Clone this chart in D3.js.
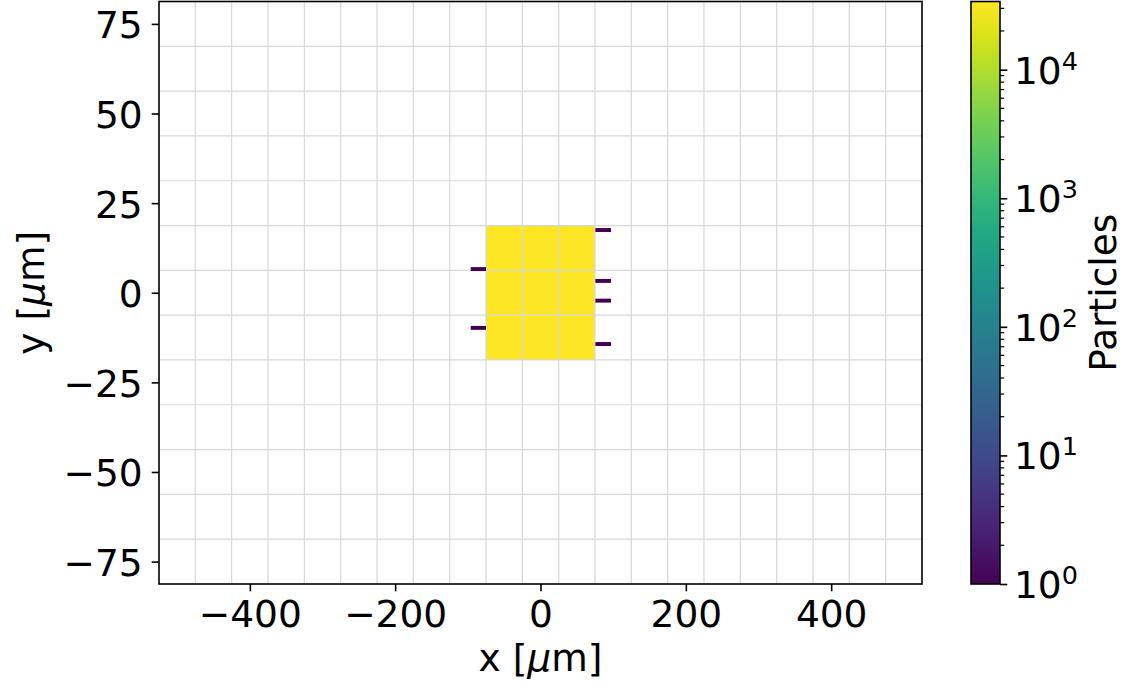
<!DOCTYPE html>
<html>
<head>
<meta charset="utf-8">
<script src="https://cdn.jsdelivr.net/npm/d3@7"></script>
<style>
  body { margin: 0; background: #fff; }
  svg, svg text { font-family: "DejaVu Sans", "DejaVu Sans Book", sans-serif; }
</style>
</head>
<body>
<svg width="1125" height="691"></svg>
<script>
// histogram bin edges (µm)
var xEdges = [-525, -475, -425, -375, -325, -275, -225, -175, -125, -75, -25, 25, 75, 125, 175, 225, 275, 325, 375, 425, 475, 525];
var yEdges = [-81.25, -68.75, -56.25, -43.75, -31.25, -18.75, -6.25, 6.25, 18.75, 31.25, 43.75, 56.25, 68.75, 81.25];

// filled bins: centre x, centre y, particle count
var cellX = [-50, 0, 50];
var cellY = [12.5, 0, -12.5];
var cellCounts = [
    [33600, 33900, 33700],
    [33800, 33900, 33800],
    [33500, 33800, 33600]
];

// stray single particles (thin slivers beside the beam)
var strayX0 = [-96, -96, 75.5, 75.5, 75.5, 75.5];
var strayX1 = [-75, -75, 97, 97, 97, 97];
var strayY = [6.6, -9.8, 17.5, 3.3, -2.2, -14.3];
var strayCounts = [1, 1, 1, 1, 1, 1];

var xTicks = [-400, -200, 0, 200, 400];
var yTicks = [-75, -50, -25, 0, 25, 50, 75];
var cbTicks = [1, 10, 100, 1000, 10000];

(function () {
var FONT = "DejaVu Sans";
var fs = 37.5;
var pL = 159, pR = 922, pT = 1.5, pB = 584;

var svg = d3.select("svg").attr("font-family", FONT);

var x = d3.scaleLinear().domain([xEdges[0], xEdges[xEdges.length - 1]]).range([pL, pR]);
var y = d3.scaleLinear().domain([yEdges[0], yEdges[yEdges.length - 1]]).range([pB, pT]);

var cMax = d3.max(cellCounts, r => d3.max(r));
var logc = d3.scaleLog().domain([1, cMax]).range([0, 1]);
var color = v => d3.interpolateViridis(logc(v));

// 2D histogram cells
var cells = [];
cellY.forEach((cy, i) => cellX.forEach((cx, j) => cells.push({ x: cx, y: cy, v: cellCounts[i][j] })));
svg.append("g").selectAll("rect")
    .data(cells)
    .enter().append("rect")
    .attr("x", d => x(d.x - 25))
    .attr("y", d => y(d.y + 6.25))
    .attr("width", d => x(d.x + 25) - x(d.x - 25))
    .attr("height", d => y(d.y - 6.25) - y(d.y + 6.25))
    .attr("fill", d => color(d.v));

// grid on bin edges
var grid = svg.append("g").attr("stroke", "#d8d8d8").attr("stroke-width", 1.2);
grid.selectAll("line.v")
    .data(xEdges.slice(1, -1))
    .enter().append("line")
    .attr("x1", d => x(d)).attr("x2", d => x(d))
    .attr("y1", pT).attr("y2", pB);
grid.selectAll("line.h")
    .data(yEdges.slice(1, -1))
    .enter().append("line")
    .attr("x1", pL).attr("x2", pR)
    .attr("y1", d => y(d)).attr("y2", d => y(d));

// strays
svg.append("g").selectAll("rect")
    .data(strayY.map((v, i) => ({ x0: strayX0[i], x1: strayX1[i], y: v, c: strayCounts[i] })))
    .enter().append("rect")
    .attr("x", d => x(d.x0))
    .attr("y", d => y(d.y + 0.55))
    .attr("width", d => x(d.x1) - x(d.x0))
    .attr("height", d => y(d.y - 0.55) - y(d.y + 0.55))
    .attr("fill", d => color(d.c));

// frame
svg.append("rect")
    .attr("x", pL).attr("y", pT)
    .attr("width", pR - pL).attr("height", pB - pT)
    .attr("fill", "none").attr("stroke", "#000").attr("stroke-width", 1.6);

var minusFmt = d => d3.format("d")(d).replace("-", "\u2212");

// x axis
var xAxis = d3.axisBottom(x).tickValues(xTicks).tickSize(7.3).tickPadding(7).tickFormat(minusFmt);
var gx = svg.append("g").attr("transform", "translate(0," + pB + ")").call(xAxis)
    .attr("font-family", FONT).attr("font-size", fs);
gx.select(".domain").remove();
gx.selectAll("line").attr("stroke-width", 1.6);
gx.selectAll("text").attr("fill", "#000").attr("dy", "0.76em");

// y axis
var yAxis = d3.axisLeft(y).tickValues(yTicks).tickSize(7.3).tickPadding(9).tickFormat(minusFmt);
var gy = svg.append("g").attr("transform", "translate(" + pL + ",0)").call(yAxis)
    .attr("font-family", FONT).attr("font-size", fs);
gy.select(".domain").remove();
gy.selectAll("line").attr("stroke-width", 1.6);
gy.selectAll("text").attr("fill", "#000").attr("dy", "0.37em");

// axis labels
var xl = svg.append("text")
    .attr("x", (pL + pR) / 2).attr("y", 671)
    .attr("text-anchor", "middle").attr("font-size", fs);
xl.append("tspan").text("x [");
xl.append("tspan").attr("font-style", "italic").text("\u03bc");
xl.append("tspan").text("m]");

var yl = svg.append("text")
    .attr("transform", "translate(44," + (pT + pB) / 2 + ") rotate(-90)")
    .attr("text-anchor", "middle").attr("font-size", fs);
yl.append("tspan").text("y [");
yl.append("tspan").attr("font-style", "italic").text("\u03bc");
yl.append("tspan").text("m]");

// colorbar
var cbL = 971, cbR = 1000;
var cy = d3.scaleLog().domain([1, cMax]).range([pB, pT]);
var defs = svg.append("defs");
var grad = defs.append("linearGradient").attr("id", "vir")
    .attr("x1", 0).attr("y1", 1).attr("x2", 0).attr("y2", 0);
d3.range(0, 1.0001, 0.05).forEach(t => {
    grad.append("stop").attr("offset", t).attr("stop-color", d3.interpolateViridis(t));
});
svg.append("rect")
    .attr("x", cbL).attr("y", pT)
    .attr("width", cbR - cbL).attr("height", pB - pT)
    .attr("fill", "url(#vir)")
    .attr("stroke", "#000").attr("stroke-width", 1.6);

var cbAxis = d3.axisRight(cy).tickValues(cbTicks).tickSize(7.3).tickFormat("");
var gc = svg.append("g").attr("transform", "translate(" + cbR + ",0)").call(cbAxis);
gc.select(".domain").remove();
gc.selectAll("line").attr("stroke-width", 1.6);

var minor = [];
cbTicks.forEach(b => [2, 3, 4, 5, 6, 7, 8, 9].forEach(m => { if (b * m <= cMax) minor.push(b * m); }));
gc.selectAll("line.minor")
    .data(minor)
    .enter().append("line")
    .attr("x1", 0).attr("x2", 4.2)
    .attr("y1", d => cy(d)).attr("y2", d => cy(d))
    .attr("stroke", "#000").attr("stroke-width", 1.2);

var cl = svg.append("g").selectAll("text")
    .data(cbTicks)
    .enter().append("text")
    .attr("x", 1014)
    .attr("y", d => cy(d) + 14)
    .attr("font-size", fs);
cl.append("tspan").text("10");
cl.append("tspan").attr("font-size", fs * 0.68).attr("dy", -14).text(d => Math.round(Math.log10(d)));

svg.append("text")
    .attr("transform", "translate(1116," + (pT + pB) / 2 + ") rotate(-90)")
    .attr("text-anchor", "middle").attr("font-size", fs)
    .text("Particles");
})();
</script>
</body>
</html>
